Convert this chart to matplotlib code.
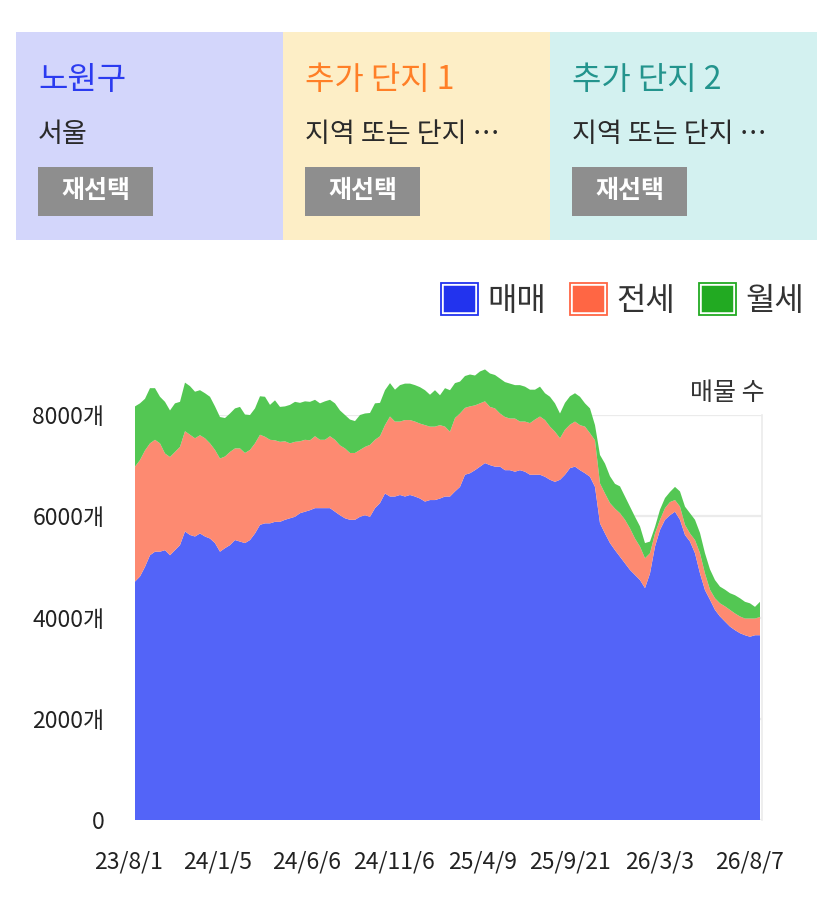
import matplotlib
matplotlib.use("Agg")
import matplotlib.pyplot as plt
import matplotlib.transforms as mtransforms
from matplotlib.patches import Rectangle, Patch
from matplotlib.legend_handler import HandlerTuple

plt.rcParams['font.family'] = ['Noto Sans CJK KR', 'DejaVu Sans']

W, H = 827, 897

# ---- data (listing counts) ----
series_names = ['매매', '전세', '월세']
maemae = [4710, 4810, 5000, 5230, 5300, 5300, 5330, 5230, 5330, 5430,
          5700, 5630, 5600, 5660, 5600, 5560, 5470, 5300, 5370, 5430,
          5530, 5500, 5470, 5530, 5660, 5830, 5860, 5860, 5890, 5890,
          5930, 5960, 5990, 6060, 6090, 6120, 6160, 6160, 6160, 6160,
          6090, 6020, 5960, 5930, 5930, 5990, 6020, 5990, 6160, 6260,
          6450, 6390, 6390, 6420, 6390, 6420, 6390, 6350, 6290, 6320,
          6320, 6350, 6390, 6390, 6490, 6580, 6820, 6850, 6910, 6980,
          7050, 7010, 6980, 6980, 6910, 6910, 6880, 6910, 6880, 6820,
          6820, 6820, 6780, 6720, 6680, 6720, 6820, 6950, 6980, 6910,
          6850, 6780, 6580, 5860, 5660, 5470, 5330, 5200, 5070, 4940,
          4840, 4740, 4580, 4870, 5400, 5730, 5930, 6020, 6090, 5930,
          5630, 5500, 5270, 4870, 4540, 4350, 4150, 4020, 3920, 3820,
          3750, 3690, 3650, 3620, 3650, 3650]
jeonse = [2270, 2300, 2300, 2210, 2210, 2140, 1910, 1940, 1940, 1940,
          1980, 1980, 1940, 1940, 1940, 1880, 1840, 1840, 1810, 1840,
          1810, 1840, 1780, 1780, 1780, 1780, 1710, 1650, 1610, 1580,
          1550, 1480, 1480, 1420, 1420, 1380, 1420, 1350, 1350, 1420,
          1420, 1380, 1380, 1320, 1320, 1320, 1350, 1420, 1350, 1320,
          1350, 1580, 1480, 1450, 1510, 1480, 1480, 1480, 1510, 1450,
          1450, 1450, 1380, 1280, 1450, 1450, 1320, 1320, 1280, 1250,
          1220, 1150, 1150, 1050, 1050, 1020, 1050, 960, 990, 1020,
          1090, 1150, 1120, 1050, 990, 820, 890, 860, 890, 890,
          920, 860, 920, 790, 790, 790, 820, 860, 860, 820,
          720, 660, 590, 400, 260, 200, 230, 260, 230, 260,
          200, 160, 260, 400, 330, 200, 230, 260, 300, 330,
          330, 330, 330, 360, 330, 360]
wolse = [1190, 1120, 1020, 1090, 1020, 920, 1020, 920, 960, 890,
         960, 960, 920, 890, 890, 920, 860, 820, 760, 760,
         790, 820, 760, 690, 690, 760, 790, 690, 790, 690,
         690, 760, 790, 760, 760, 760, 720, 720, 760, 720,
         720, 690, 660, 660, 630, 690, 660, 630, 720, 660,
         690, 660, 630, 720, 720, 720, 720, 720, 690, 630,
         720, 590, 760, 820, 690, 630, 630, 630, 590, 630,
         630, 660, 660, 690, 690, 690, 660, 720, 690, 660,
         590, 590, 530, 590, 560, 490, 530, 560, 560, 560,
         460, 490, 300, 560, 590, 530, 490, 530, 460, 430,
         430, 400, 300, 230, 130, 200, 200, 200, 260, 300,
         360, 400, 400, 400, 400, 400, 360, 330, 330, 330,
         360, 360, 330, 300, 230, 300]
x_labels = ['23/8/1', '24/1/5', '24/6/6', '24/11/6', '25/4/9', '25/9/21', '26/3/3', '26/8/7']
x_label_pos = [0, 17.8, 35.6, 53.0, 70.8, 88.2, 106.2, 124.2]
y_ticks = [0, 2000, 4000, 6000, 8000]

fill_colors = ['#5364f8', '#fd8a71', '#53c753']
legend_colors = ['#2233ee', '#ff6644', '#22aa22']

panels = [
    ('노원구', '서울', '#d3d6fb', '#2b3bf0'),
    ('추가 단지 1', '지역 또는 단지 …', '#fdeec6', '#ff7f27'),
    ('추가 단지 2', '지역 또는 단지 …', '#d3f1f0', '#23948d'),
]

fig = plt.figure(figsize=(W / 100, H / 100), dpi=100)


def fx(px):
    return px / W


def fy(py):
    return 1 - py / H


# ---- top selection panels ----
panel_w = 267
for i, (title, sub, bg, tc) in enumerate(panels):
    x0 = 16 + i * panel_w
    fig.patches.append(Rectangle((fx(x0), fy(240)), panel_w / W, 208 / H,
                                 transform=fig.transFigure, facecolor=bg,
                                 edgecolor='none', zorder=0))
    fig.text(fx(x0 + 22), fy(80), title, color=tc, fontsize=23,
             va='center', ha='left')
    fig.text(fx(x0 + 22), fy(134), sub, color='#2a2a2a', fontsize=19.5,
             va='center', ha='left')
    fig.patches.append(Rectangle((fx(x0 + 22), fy(216)), 115 / W, 49 / H,
                                 transform=fig.transFigure, facecolor='#8e8e8e',
                                 edgecolor='none', zorder=1))
    fig.text(fx(x0 + 22 + 57.5), fy(191), '재선택', color='white', fontsize=18,
             fontweight='bold', va='center', ha='center', zorder=2)

# ---- chart ----
ax = fig.add_axes([fx(135), fy(820), 627 / W, 405 / H])
xs = list(range(len(maemae)))
polys = ax.stackplot(xs, maemae, jeonse, wolse, colors=fill_colors,
                     labels=series_names, linewidth=0)
for p in polys:
    p.set_clip_on(False)

ax.set_xlim(0, len(maemae) - 1 + 0.4)
ax.set_ylim(0, 8000)
ax.set_yticks(y_ticks)
ax.set_yticklabels(['0'] + ['%d개' % v for v in y_ticks[1:]])
ax.set_xticks(x_label_pos)
ax.set_xticklabels(x_labels)
ax.tick_params(axis='both', length=0, labelsize=16.5, labelcolor='#222222')
ax.tick_params(axis='y', pad=22)
ax.tick_params(axis='x', pad=22)
shift = mtransforms.ScaledTranslation(-6 / 100, 0, fig.dpi_scale_trans)
for lab in ax.get_xticklabels():
    lab.set_transform(lab.get_transform() + shift)

ax.grid(axis='y', color='#ebebeb', linewidth=1.6)
ax.set_axisbelow(True)
for side in ['top', 'left', 'bottom']:
    ax.spines[side].set_visible(False)
ax.spines['right'].set_color('#ebebeb')
ax.spines['right'].set_linewidth(1.2)

fig.text(fx(765), fy(393), '매물 수', ha='right', va='center',
         fontsize=18, color='#333333')

# legend: colored square with a white ring and a thin colored border
handles = [(Patch(facecolor=c, edgecolor='white', linewidth=4),
            Patch(facecolor='none', edgecolor=c, linewidth=1.3))
           for c in legend_colors]
fig.legend(handles, series_names, handler_map={tuple: HandlerTuple(ndivide=1)},
           loc='center right', bbox_to_anchor=(fx(804), fy(300)),
           ncol=3, frameon=False, fontsize=23, handlelength=1.15,
           handleheight=1.15, handletextpad=0.3, columnspacing=0.75,
           borderpad=0, borderaxespad=0, labelcolor='#333333')

fig.savefig('out.png', dpi=100)
